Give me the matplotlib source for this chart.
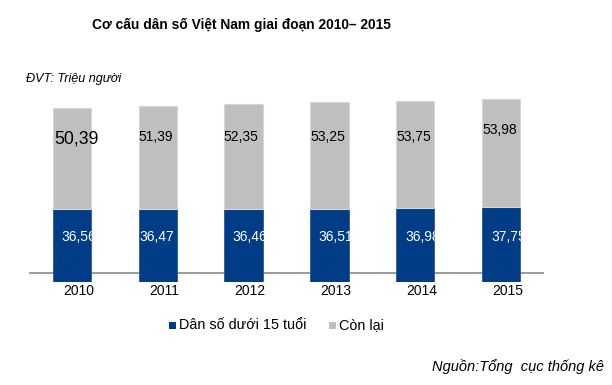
import matplotlib
matplotlib.use("Agg")
import matplotlib.pyplot as plt
from matplotlib.patches import Rectangle

plt.rcParams['font.family'] = ['Liberation Sans', 'DejaVu Sans']

# ---- data ----
years = ['2010', '2011', '2012', '2013', '2014', '2015']
under15 = [36.56, 36.47, 36.46, 36.51, 36.98, 37.75]
others = [50.39, 51.39, 52.35, 53.25, 53.75, 53.98]
series_names = ['Dân số dưới 15 tuổi', 'Còn lại']
title = 'Cơ cấu dân số Việt Nam giai đoạn 2010– 2015'
unit_text = 'ĐVT: Triệu người'
source_text = 'Nguồn:Tổng  cục thống kê'

# ---- style / layout ----
BLUE = '#003D86'
GRAY = '#BFBFBF'
W, H = 612, 385
# label layout (pixel offsets / sizes), not data
blue_dx = [9, 1, 8, 8.6, 9.3, 9.6]
gray_dx = [1.3, 0.3, -0.7, 0, 0, 0]
gray_y = [71.35, 72.35, 72.35, 72.35, 72.35, 76.0]
gray_fs = [12.7, 10, 10, 10, 10, 10]
blue_y = 22.65
axis_line_y = 4.35

fig = plt.figure(figsize=(W / 100, H / 100), dpi=100)
ax_left, ax_right = 29, 544
ax_bottom, ax_top = 282, 90
ax = fig.add_axes([ax_left / W, 1 - ax_bottom / H,
                   (ax_right - ax_left) / W, (ax_bottom - ax_top) / H])
ax.set_xlim(-0.5, 5.5)
ax.set_ylim(0, 96)
for s in ax.spines.values():
    s.set_visible(False)
ax.set_yticks([])
x = list(range(len(years)))
px_per_unit_x = (ax_right - ax_left) / 6.0
ax.set_xticks([i + 6.5 / px_per_unit_x for i in x])
ax.set_xticklabels(years, fontsize=10)
ax.tick_params(axis='x', length=0, pad=1.5)

ax.axhline(axis_line_y, color='#808080', lw=1.1, zorder=1)

bw = 0.446
b1 = ax.bar(x, under15, width=bw, color=BLUE, edgecolor='#2a5a9a', lw=0.6, zorder=2)
b2 = ax.bar(x, others, width=bw, bottom=under15, color=GRAY, edgecolor='#d6d6d6', lw=0.8, zorder=2)

for i in x:
    left = i - bw / 2
    t = ax.text(left + blue_dx[i] / px_per_unit_x, blue_y, f'{under15[i]:.2f}'.replace('.', ','),
                color='white', fontsize=10, ha='left', va='center', zorder=3)
    t.set_clip_path(b1.patches[i])
    ax.text(left + gray_dx[i] / px_per_unit_x, gray_y[i], f'{others[i]:.2f}'.replace('.', ','),
            color='black', fontsize=gray_fs[i], ha='left', va='center', zorder=3)

fig.text(241 / W, 1 - 25 / H, title, fontsize=9.9, fontweight='bold', ha='center', va='center')
fig.text(26 / W, 1 - 79 / H, unit_text, fontsize=9.1, style='italic', ha='left', va='center')
fig.text(604 / W, 1 - 367 / H, source_text, fontsize=10.5, style='italic', ha='right', va='center')

# legend
leg_y = 325
for (sx, tx, col, name) in [(169.3, 179, BLUE, series_names[0]), (329.3, 339, GRAY, series_names[1])]:
    fig.add_artist(Rectangle((sx / W, 1 - (leg_y + 3.5) / H), 7 / W, 7 / H,
                             transform=fig.transFigure, color=col, lw=0))
    fig.text(tx / W, 1 - leg_y / H, name, fontsize=10.4, ha='left', va='center')

fig.savefig('out.png', dpi=100)
